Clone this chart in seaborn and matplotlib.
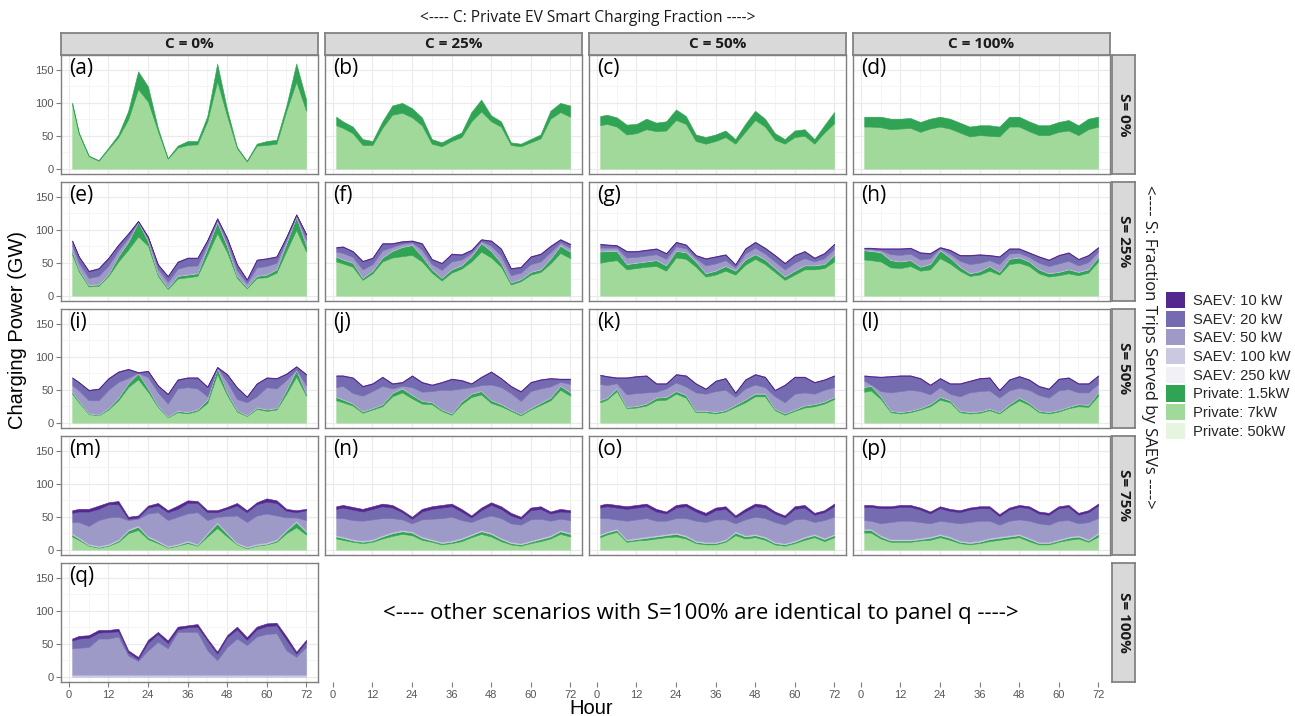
import matplotlib
matplotlib.use("Agg")
import matplotlib.pyplot as plt
from matplotlib.patches import Patch
import seaborn as sns

# hours (every 3 h)
hours = [1, 3, 6, 9, 12, 15, 18, 21, 24, 27, 30, 33, 36, 39, 42, 45, 48, 51, 54, 57, 60, 63, 66, 69, 72]

# ---- S = 0% row (private only), GW per layer
a_p7 = [97, 53, 19, 12, 30, 48, 75, 121, 102, 57, 15, 32, 36, 37, 72, 133, 80, 31, 11, 35, 36, 38, 88, 132, 88]
a_p15 = [3, 2, 1, 1, 2, 4, 13, 27, 23, 5, 1, 3, 6, 5, 8, 27, 10, 2, 1, 3, 6, 6, 8, 28, 17]
b_p7 = [66, 62, 54, 36, 36, 62, 82, 85, 78, 66, 38, 34, 42, 48, 72, 87, 72, 64, 36, 34, 40, 46, 76, 86, 79]
b_p15 = [13, 10, 10, 9, 6, 10, 14, 15, 14, 12, 7, 6, 6, 7, 14, 18, 9, 8, 4, 4, 5, 6, 12, 14, 17]
c_p7 = [66, 68, 64, 52, 54, 60, 57, 58, 74, 68, 42, 38, 42, 48, 38, 56, 74, 64, 44, 38, 48, 50, 38, 55, 69]
c_p15 = [14, 14, 14, 15, 14, 16, 13, 14, 16, 12, 10, 10, 10, 10, 7, 12, 14, 12, 10, 7, 10, 10, 7, 11, 17]
d_p7 = [64, 64, 63, 60, 61, 62, 56, 61, 64, 61, 55, 49, 51, 50, 49, 64, 64, 57, 51, 51, 56, 58, 51, 60, 64]
d_p15 = [15, 15, 16, 16, 15, 15, 15, 15, 15, 15, 15, 15, 15, 16, 15, 15, 15, 15, 15, 15, 15, 16, 15, 16, 15]

# ---- S = 25% row
e_p7 = [62, 37, 14, 15, 30, 52, 70, 90, 76, 30, 10, 26, 28, 30, 62, 95, 66, 27, 11, 27, 28, 35, 68, 100, 67]
e_p15 = [6, 3, 2, 2, 3, 8, 12, 22, 7, 3, 2, 4, 4, 4, 10, 17, 9, 3, 2, 3, 4, 5, 12, 20, 9]
e_s100 = [1, 1, 1, 1, 1, 1, 1, 1, 1, 1, 1, 1, 1, 1, 1, 1, 1, 1, 1, 1, 1, 1, 1, 1, 1]
e_s50 = [7, 9, 10, 12, 12, 8, 5, 0, 3, 7, 8, 10, 12, 11, 5, 2, 5, 8, 5, 12, 12, 9, 4, 1, 8]
e_s20 = [7, 9, 10, 11, 11, 8, 6, 0, 2, 6, 8, 10, 12, 11, 6, 2, 6, 8, 5, 11, 11, 9, 4, 1, 8]
e_s10 = [1, 1, 1, 1, 1, 1, 1, 1, 1, 1, 1, 1, 1, 1, 1, 1, 1, 1, 1, 1, 1, 1, 1, 1, 1]

f_p7 = [52, 49, 44, 24, 34, 52, 58, 60, 62, 52, 35, 23, 35, 41, 52, 67, 58, 44, 17, 22, 32, 36, 49, 65, 57]
f_p15 = [7, 6, 6, 3, 4, 6, 10, 14, 15, 8, 5, 4, 5, 5, 8, 13, 10, 6, 3, 3, 4, 4, 7, 11, 10]
f_s100 = [1, 1, 1, 1, 1, 1, 1, 1, 1, 1, 1, 1, 1, 1, 1, 1, 1, 1, 1, 1, 1, 1, 1, 1, 1]
f_s50 = [7, 9, 8, 12, 9, 10, 5, 4, 3, 9, 7, 11, 11, 8, 4, 2, 7, 10, 10, 9, 11, 11, 9, 4, 5]
f_s20 = [6, 9, 8, 12, 9, 10, 5, 3, 2, 9, 7, 10, 11, 7, 4, 2, 7, 10, 10, 8, 11, 11, 9, 4, 5]
f_s10 = [1, 1, 1, 1, 1, 1, 1, 1, 1, 1, 1, 1, 1, 1, 1, 1, 1, 1, 1, 1, 1, 1, 1, 1, 1]

g_p7 = [50, 52, 54, 40, 42, 44, 45, 38, 58, 56, 44, 29, 32, 38, 32, 47, 56, 48, 36, 24, 32, 40, 40, 42, 52]
g_p15 = [17, 16, 14, 8, 8, 8, 9, 8, 10, 10, 8, 5, 6, 7, 6, 8, 7, 7, 6, 5, 6, 6, 6, 6, 10]
g_s100 = [1, 1, 1, 1, 1, 1, 1, 1, 1, 1, 1, 1, 1, 1, 1, 1, 1, 1, 1, 1, 1, 1, 1, 1, 1]
g_s50 = [5, 4, 4, 9, 8, 8, 8, 9, 6, 5, 4, 11, 10, 8, 4, 8, 9, 8, 9, 10, 11, 10, 5, 8, 8]
g_s20 = [5, 4, 3, 9, 8, 8, 8, 8, 6, 5, 4, 10, 10, 8, 4, 7, 8, 8, 9, 9, 11, 10, 5, 7, 7]
g_s10 = [1, 1, 1, 1, 1, 1, 1, 1, 1, 1, 1, 1, 1, 1, 1, 1, 1, 1, 1, 1, 1, 1, 1, 1, 1]

h_p7 = [55, 54, 52, 43, 42, 45, 38, 40, 57, 49, 38, 30, 32, 38, 32, 48, 50, 45, 34, 29, 31, 34, 31, 35, 52]
h_p15 = [14, 14, 14, 11, 10, 9, 6, 8, 12, 9, 6, 4, 5, 7, 4, 8, 8, 7, 6, 5, 5, 6, 5, 5, 7]
h_s100 = [1, 1, 1, 1, 1, 1, 1, 1, 1, 1, 1, 1, 1, 1, 1, 1, 1, 1, 1, 1, 1, 1, 1, 1, 1]
h_s50 = [1, 2, 2, 8, 9, 9, 10, 8, 2, 5, 8, 13, 12, 8, 11, 7, 6, 6, 9, 10, 12, 12, 9, 10, 7]
h_s20 = [1, 1, 2, 8, 9, 8, 10, 7, 1, 5, 8, 13, 12, 7, 11, 7, 6, 6, 9, 9, 12, 12, 9, 10, 6]
h_s10 = [1, 1, 1, 1, 1, 1, 1, 1, 1, 1, 1, 1, 1, 1, 1, 1, 1, 1, 1, 1, 1, 1, 1, 1, 1]

# ---- S = 50% row
i_p7 = [44, 31, 13, 11, 20, 34, 54, 66, 47, 24, 8, 16, 14, 18, 30, 74, 42, 17, 10, 21, 18, 20, 44, 70, 41]
i_p15 = [3, 2, 1, 1, 2, 4, 6, 9, 5, 2, 1, 2, 2, 2, 5, 9, 4, 2, 1, 2, 2, 2, 6, 10, 3]
i_s100 = [1, 1, 1, 1, 1, 1, 1, 1, 1, 1, 1, 1, 1, 1, 1, 1, 1, 1, 1, 1, 1, 1, 1, 1, 1]
i_s50 = [9, 15, 19, 21, 27, 23, 7, 0, 16, 19, 19, 33, 37, 31, 4, 0, 15, 16, 19, 16, 33, 29, 14, 0, 12]
i_s20 = [11, 12, 15, 17, 17, 15, 13, 0, 9, 10, 14, 13, 14, 16, 14, 0, 11, 17, 8, 19, 14, 15, 9, 4, 16]
i_s10 = [1, 1, 1, 1, 1, 1, 1, 1, 1, 1, 1, 1, 1, 1, 1, 1, 1, 1, 1, 1, 1, 1, 1, 1, 1]

j_p7 = [34, 31, 26, 15, 20, 25, 40, 46, 37, 29, 28, 18, 12, 28, 39, 43, 30, 25, 18, 11, 20, 27, 34, 50, 41]
j_p15 = [5, 4, 3, 2, 2, 3, 5, 6, 5, 4, 3, 2, 2, 4, 5, 5, 4, 3, 2, 2, 2, 3, 4, 6, 5]
j_s100 = [1, 1, 1, 1, 1, 1, 1, 1, 1, 1, 1, 1, 1, 1, 1, 1, 1, 1, 1, 1, 1, 1, 1, 1, 1]
j_s50 = [14, 20, 15, 23, 25, 27, 6, 3, 11, 13, 16, 29, 35, 19, 9, 8, 23, 25, 24, 19, 25, 21, 16, 5, 12]
j_s20 = [17, 15, 23, 14, 11, 13, 7, 5, 17, 14, 9, 11, 16, 12, 5, 12, 19, 13, 10, 14, 13, 13, 12, 4, 7]
j_s10 = [1, 1, 1, 1, 1, 1, 1, 1, 1, 1, 1, 1, 1, 1, 1, 1, 1, 1, 1, 1, 1, 1, 1, 1, 1]

k_p7 = [31, 35, 48, 22, 23, 26, 34, 35, 44, 38, 16, 16, 14, 17, 24, 31, 40, 40, 19, 12, 18, 23, 25, 29, 36]
k_p15 = [3, 3, 4, 2, 2, 3, 4, 4, 4, 4, 2, 2, 2, 2, 3, 4, 4, 4, 2, 2, 2, 3, 3, 3, 3]
k_s100 = [1, 1, 1, 1, 1, 1, 1, 1, 1, 1, 1, 1, 1, 1, 1, 1, 1, 1, 1, 1, 1, 1, 1, 1, 1]
k_s50 = [24, 18, 7, 18, 19, 16, 8, 12, 12, 12, 27, 25, 31, 30, 11, 16, 13, 9, 18, 16, 23, 19, 15, 17, 14]
k_s20 = [13, 13, 8, 25, 25, 25, 12, 7, 12, 16, 13, 7, 15, 17, 6, 13, 15, 15, 9, 26, 25, 23, 17, 15, 17]
k_s10 = [1, 1, 1, 1, 1, 1, 1, 1, 1, 1, 1, 1, 1, 1, 1, 1, 1, 1, 1, 1, 1, 1, 1, 1, 1]

l_p7 = [47, 49, 36, 16, 14, 16, 20, 25, 35, 31, 16, 14, 15, 19, 14, 25, 34, 27, 16, 14, 17, 22, 25, 24, 41]
l_p15 = [7, 7, 4, 2, 2, 2, 2, 3, 4, 3, 2, 2, 2, 2, 2, 3, 4, 3, 2, 2, 2, 2, 3, 3, 5]
l_s100 = [1, 1, 1, 1, 1, 1, 1, 1, 1, 1, 1, 1, 1, 1, 1, 1, 1, 1, 1, 1, 1, 1, 1, 1, 1]
l_s50 = [9, 1, 7, 27, 31, 31, 25, 14, 14, 9, 21, 29, 30, 27, 21, 20, 14, 19, 23, 21, 29, 26, 17, 18, 12]
l_s20 = [7, 12, 21, 24, 23, 21, 19, 14, 13, 15, 19, 17, 19, 19, 11, 16, 17, 15, 13, 13, 17, 17, 13, 13, 12]
l_s10 = [1, 1, 1, 1, 1, 1, 1, 1, 1, 1, 1, 1, 1, 1, 1, 1, 1, 1, 1, 1, 1, 1, 1, 1, 1]

# ---- S = 75% row
m_p7 = [20, 15, 6, 3, 6, 12, 25, 30, 16, 10, 3, 6, 10, 6, 20, 33, 20, 8, 2, 6, 8, 12, 25, 34, 23]
m_p15 = [3, 2, 1, 1, 1, 2, 4, 5, 3, 2, 1, 1, 2, 1, 4, 7, 4, 1, 1, 1, 1, 2, 4, 8, 4]
m_s100 = [2, 2, 2, 2, 2, 2, 2, 2, 2, 2, 2, 2, 2, 2, 2, 2, 2, 2, 2, 2, 2, 2, 2, 2, 2]
m_s50 = [17, 23, 27, 39, 40, 34, 14, 10, 34, 43, 39, 41, 41, 48, 19, 8, 25, 41, 37, 43, 44, 36, 18, 5, 16]
m_s20 = [14, 16, 22, 17, 20, 19, 2, 2, 9, 10, 12, 12, 16, 14, 12, 7, 11, 15, 15, 17, 18, 19, 10, 8, 15]
m_s10 = [4, 4, 4, 5, 3, 5, 3, 3, 3, 4, 3, 5, 4, 3, 3, 3, 3, 4, 3, 3, 5, 4, 3, 3, 2]

n_p7 = [17, 15, 12, 10, 12, 17, 21, 24, 22, 15, 12, 8, 10, 13, 19, 24, 20, 13, 8, 6, 10, 13, 17, 24, 20]
n_p15 = [3, 3, 2, 2, 2, 3, 4, 4, 4, 3, 2, 2, 2, 3, 3, 4, 4, 3, 2, 2, 2, 3, 3, 4, 4]
n_s100 = [2, 2, 2, 2, 2, 2, 2, 2, 2, 2, 2, 2, 2, 2, 2, 2, 2, 2, 2, 2, 2, 2, 2, 2, 2]
n_s50 = [26, 28, 29, 30, 30, 26, 21, 16, 12, 26, 31, 36, 36, 27, 18, 18, 26, 30, 28, 28, 32, 29, 22, 17, 19]
n_s20 = [14, 16, 16, 14, 16, 18, 16, 11, 7, 12, 15, 16, 16, 13, 7, 12, 16, 14, 12, 9, 14, 15, 11, 11, 12]
n_s10 = [4, 4, 4, 4, 4, 4, 4, 3, 3, 4, 4, 4, 4, 4, 3, 4, 4, 4, 4, 3, 4, 4, 3, 4, 3]

o_p7 = [19, 23, 27, 12, 14, 15, 17, 19, 20, 17, 10, 8, 8, 12, 22, 17, 19, 15, 8, 6, 10, 15, 19, 13, 19]
o_p15 = [3, 3, 3, 2, 2, 3, 3, 3, 4, 3, 2, 2, 2, 2, 4, 3, 3, 3, 2, 2, 2, 3, 3, 3, 3]
o_s100 = [2, 2, 2, 2, 2, 2, 2, 2, 2, 2, 2, 2, 2, 2, 2, 2, 2, 2, 2, 2, 2, 2, 2, 2, 2]
o_s50 = [24, 20, 14, 28, 28, 28, 22, 20, 22, 26, 30, 30, 34, 30, 12, 24, 26, 28, 30, 28, 32, 27, 18, 27, 26]
o_s20 = [16, 18, 18, 18, 18, 18, 14, 11, 16, 18, 14, 10, 14, 16, 9, 12, 16, 16, 13, 11, 16, 17, 11, 12, 16]
o_s10 = [4, 4, 4, 4, 4, 4, 4, 3, 4, 4, 4, 4, 4, 4, 3, 4, 4, 4, 3, 3, 4, 4, 3, 3, 4]

p_p7 = [26, 26, 17, 12, 12, 12, 14, 15, 19, 15, 10, 8, 10, 13, 15, 17, 19, 13, 8, 8, 12, 15, 17, 12, 20]
p_p15 = [4, 4, 3, 2, 2, 2, 2, 3, 3, 3, 2, 2, 2, 3, 3, 3, 3, 3, 2, 2, 2, 3, 3, 2, 4]
p_s100 = [2, 2, 2, 2, 2, 2, 2, 2, 2, 2, 2, 2, 2, 2, 2, 2, 2, 2, 2, 2, 2, 2, 2, 2, 2]
p_s50 = [13, 12, 18, 26, 28, 28, 24, 20, 20, 22, 26, 30, 30, 26, 18, 22, 22, 26, 28, 26, 28, 25, 18, 26, 22]
p_s20 = [20, 21, 23, 21, 21, 21, 19, 15, 19, 17, 17, 19, 19, 19, 13, 17, 19, 19, 15, 15, 19, 20, 13, 15, 19]
p_s10 = [3, 3, 3, 3, 3, 3, 3, 3, 3, 3, 3, 3, 3, 3, 3, 3, 3, 3, 3, 3, 3, 3, 3, 3, 3]

# ---- S = 100% row (SAEV only)
q_s100 = [3, 3, 3, 3, 3, 3, 3, 3, 3, 3, 3, 3, 3, 3, 3, 3, 3, 3, 3, 3, 3, 3, 3, 3, 3]
q_s50 = [40, 41, 42, 55, 55, 58, 29, 21, 37, 50, 40, 65, 65, 65, 37, 22, 42, 55, 45, 58, 62, 63, 37, 27, 42]
q_s20 = [12, 14, 14, 9, 10, 8, 5, 3, 12, 12, 8, 4, 7, 8, 15, 10, 15, 14, 8, 11, 12, 12, 16, 5, 8]
q_s10 = [3, 4, 4, 4, 3, 4, 3, 3, 4, 3, 4, 4, 3, 4, 3, 3, 3, 4, 4, 4, 4, 4, 5, 3, 3]

c_labels = ["C = 0%", "C = 25%", "C = 50%", "C = 100%"]
s_labels = ["S= 0%", "S= 25%", "S= 50%", "S= 75%", "S= 100%"]
legend_labels = ["SAEV: 10 kW", "SAEV: 20 kW", "SAEV: 50 kW", "SAEV: 100 kW", "SAEV: 250 kW",
                 "Private: 1.5kW", "Private: 7kW", "Private: 50kW"]
fills = {"SAEV: 10 kW": "#54278f", "SAEV: 20 kW": "#756bb1", "SAEV: 50 kW": "#9e9ac8",
         "SAEV: 100 kW": "#cbc9e2", "SAEV: 250 kW": "#f2f0f7",
         "Private: 1.5kW": "#31a354", "Private: 7kW": "#a1d99b", "Private: 50kW": "#e5f5e0"}
# bottom -> top stacking
stack_order = ["Private: 7kW", "Private: 1.5kW", "SAEV: 100 kW", "SAEV: 50 kW", "SAEV: 20 kW", "SAEV: 10 kW"]

def panel(p7=None, p15=None, s100=None, s50=None, s20=None, s10=None):
    return dict(zip(stack_order, [p7, p15, s100, s50, s20, s10]))

panels = {
    "a": panel(a_p7, a_p15), "b": panel(b_p7, b_p15), "c": panel(c_p7, c_p15), "d": panel(d_p7, d_p15),
    "e": panel(e_p7, e_p15, e_s100, e_s50, e_s20, e_s10),
    "f": panel(f_p7, f_p15, f_s100, f_s50, f_s20, f_s10),
    "g": panel(g_p7, g_p15, g_s100, g_s50, g_s20, g_s10),
    "h": panel(h_p7, h_p15, h_s100, h_s50, h_s20, h_s10),
    "i": panel(i_p7, i_p15, i_s100, i_s50, i_s20, i_s10),
    "j": panel(j_p7, j_p15, j_s100, j_s50, j_s20, j_s10),
    "k": panel(k_p7, k_p15, k_s100, k_s50, k_s20, k_s10),
    "l": panel(l_p7, l_p15, l_s100, l_s50, l_s20, l_s10),
    "m": panel(m_p7, m_p15, m_s100, m_s50, m_s20, m_s10),
    "n": panel(n_p7, n_p15, n_s100, n_s50, n_s20, n_s10),
    "o": panel(o_p7, o_p15, o_s100, o_s50, o_s20, o_s10),
    "p": panel(p_p7, p_p15, p_s100, p_s50, p_s20, p_s10),
    "q": panel(None, None, q_s100, q_s50, q_s20, q_s10),
}
grid = [["a", "b", "c", "d"], ["e", "f", "g", "h"], ["i", "j", "k", "l"],
        ["m", "n", "o", "p"], ["q", None, None, None]]

sns.set_theme(style="whitegrid")
plt.rcParams["font.family"] = ["Liberation Sans", "DejaVu Sans"]

W, H = 1295, 716
fig = plt.figure(figsize=(W / 100, H / 100), dpi=100)

def rect(l, t, r, b):
    return [l / W, 1 - b / H, (r - l) / W, (b - t) / H]

cols = [(61, 318), (325, 582), (589, 846), (853, 1110)]
rows = [(55, 174), (182, 301), (309, 428), (436, 555), (563, 682)]
edge = "#7f7f7f"
tick_kw = dict(labelsize=8, labelcolor="#555555", color=edge, length=3.5, width=0.8, pad=2)

for ri, (t, b) in enumerate(rows):
    for ci, (l, r) in enumerate(cols):
        key = grid[ri][ci]
        ax = fig.add_axes(rect(l, t, r, b))
        ax.set_xlim(-2.4, 75.6)
        ax.set_ylim(-8.1, 172.8)
        ax.set_xticks(range(0, 73, 12))
        if key is None:
            # empty facet: only the x axis of the column
            ax.set_facecolor("none")
            ax.grid(False)
            for s in ax.spines.values():
                s.set_visible(False)
            ax.set_yticks([])
            ax.tick_params(axis="x", bottom=True, **tick_kw)
            continue
        ax.set_facecolor("white")
        ax.set_xticks(range(6, 72, 12), minor=True)
        ax.set_yticks([0, 50, 100, 150])
        ax.set_yticks([25, 75, 125], minor=True)
        ax.grid(which="major", color="#ebebeb", lw=0.9)
        ax.grid(which="minor", color="#f4f4f4", lw=0.6)
        ax.set_axisbelow(True)
        data = panels[key]
        names = [n for n in stack_order if data[n] is not None]
        ax.stackplot(hours, [data[n] for n in names], colors=[fills[n] for n in names],
                     linewidth=0.4, edgecolor="face")
        for s in ax.spines.values():
            s.set_color(edge)
            s.set_linewidth(1.0)
        ax.tick_params(which="both", left=False, bottom=False, labelleft=False, labelbottom=False)
        if ci == 0:
            ax.tick_params(axis="y", which="major", left=True, labelleft=True, **tick_kw)
        if ri == 4:
            ax.tick_params(axis="x", which="major", bottom=True, labelbottom=True, **tick_kw)
        ax.text(0.032, 0.975, f"({key})", transform=ax.transAxes, ha="left", va="top",
                fontsize=15, family=["Open Sans", "DejaVu Sans"], color="black")

# facet strips
for ci, (l, r) in enumerate(cols):
    sax = fig.add_axes(rect(l, 33, r, 55))
    sax.set_facecolor("#d9d9d9")
    sax.grid(False)
    sax.set_xticks([]); sax.set_yticks([])
    for s in sax.spines.values():
        s.set_color(edge)
    sax.text(0.5, 0.5, c_labels[ci], ha="center", va="center", fontsize=11, fontweight="bold",
             family=["Open Sans", "DejaVu Sans"], color="#1a1a1a", transform=sax.transAxes)
for ri, (t, b) in enumerate(rows):
    sax = fig.add_axes(rect(1112, t, 1135, b))
    sax.set_facecolor("#d9d9d9")
    sax.grid(False)
    sax.set_xticks([]); sax.set_yticks([])
    for s in sax.spines.values():
        s.set_color(edge)
    sax.text(0.5, 0.5, s_labels[ri], ha="center", va="center", rotation=270, fontsize=11,
             fontweight="bold", family=["Open Sans", "DejaVu Sans"], color="#1a1a1a",
             transform=sax.transAxes)

fig.text(588 / W, 1 - 18 / H, "<---- C: Private EV Smart Charging Fraction ---->", ha="center",
         va="center", fontsize=11.2, family=["Open Sans", "DejaVu Sans"], color="#1a1a1a")
fig.text(1149 / W, 1 - 347 / H, "<---- S: Fraction Trips Served by SAEVs ---->", ha="center",
         va="center", rotation=270, fontsize=12, family=["Open Sans", "DejaVu Sans"], color="#1a1a1a")
fig.text(18 / W, 1 - 330 / H, "Charging Power (GW)", ha="center", va="center", rotation=90,
         fontsize=14.5, color="black")
fig.text(591 / W, 1 - 708 / H, "Hour", ha="center", va="center", fontsize=14.5, color="black")
fig.text(701 / W, 1 - 613 / H, "<---- other scenarios with S=100% are identical to panel q ---->",
         ha="center", va="center", fontsize=16, family=["Open Sans", "DejaVu Sans"], color="black")

handles = [Patch(facecolor=fills[n], edgecolor="none", label=n) for n in legend_labels]
fig.legend(handles=handles, loc="upper left", bbox_to_anchor=(1166 / W, 1 - 292 / H),
           frameon=False, fontsize=10.6, handlelength=1.3, handleheight=1.3,
           labelspacing=0.18, handletextpad=0.55, borderpad=0, borderaxespad=0)

fig.savefig("out.png", dpi=100)
